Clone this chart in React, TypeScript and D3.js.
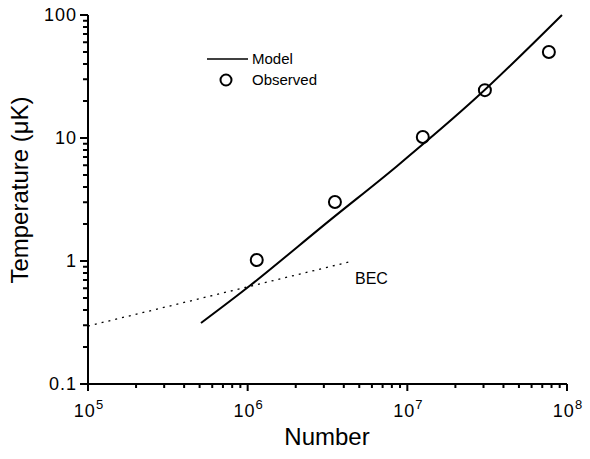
import React from 'react';
import * as d3 from 'd3';

// model curve (number, temperature in uK)
const modelN = [5.1e5, 1.05e6, 3.28e6, 8.6e6, 2.73e7, 9.3e7];
const modelT = [0.313, 0.64, 2.15, 5.9, 21.5, 100];

// observed points
const obsN = [1.14e6, 3.52e6, 1.25e7, 3.06e7, 7.7e7];
const obsT = [1.02, 3.02, 10.2, 24.5, 50];

// BEC line
const becN = [1e5, 4.57e6];
const becT = [0.296, 1.0];

const xMajor = [1e5, 1e6, 1e7, 1e8];
const xExponents = ['5', '6', '7', '8'];
const yMajor = [0.1, 1, 10, 100];
const yLabels = ['0.1', '1', '10', '100'];

const W = 590;
const H = 459;
const FONT = '"Liberation Sans", Arial, Helvetica, sans-serif';

const x = d3.scaleLog().domain([1e5, 1e8]).range([88, 567]);
const y = d3.scaleLog().domain([0.1, 100]).range([384, 15]);

const isMajor = (list: number[], v: number) => list.some(m => Math.abs(m - v) / m < 1e-6);
const minorX = x.ticks().filter(v => !isMajor(xMajor, v));
const minorY = y.ticks().filter(v => !isMajor(yMajor, v));

const modelLine = d3.line<number>()
  .x((d, i) => x(modelN[i]))
  .y(d => y(d))
  .curve(d3.curveCatmullRom);

const becLine = d3.line<number>()
  .x((d, i) => x(becN[i]))
  .y(d => y(d));

export default function App() {
  const x0 = x.range()[0];
  const x1 = x.range()[1];
  const y0 = y.range()[0];
  const y1 = y.range()[1];

  // axes and ticks as one path
  const axisPath = d3.path();
  axisPath.moveTo(x0, y1);
  axisPath.lineTo(x0, y0);
  axisPath.moveTo(x0 - 8, y0);
  axisPath.lineTo(x1, y0);
  minorY.forEach(v => { axisPath.moveTo(x0 - 5, y(v)); axisPath.lineTo(x0, y(v)); });
  yMajor.forEach(v => { axisPath.moveTo(x0 - 8, y(v)); axisPath.lineTo(x0, y(v)); });
  minorX.forEach(v => { axisPath.moveTo(x(v), y0); axisPath.lineTo(x(v), y0 + 4); });
  xMajor.forEach(v => { axisPath.moveTo(x(v), y0); axisPath.lineTo(x(v), y0 + 7); });

  return (
    <svg width={W} height={H} style={{ position: 'absolute', left: 0, top: 0, background: '#fff' }}
      fontFamily={FONT}>
      {/* axes */}
      <path d={axisPath.toString()} fill="none" stroke="#000" strokeWidth={2} />

      {/* tick labels */}
      {yMajor.map((v, i) => (
        <text key={'yl' + v} x={77} y={y(v)} dy="0.36em" textAnchor="end" fontSize={18}
          style={{ letterSpacing: '1px' }}>{yLabels[i]}</text>
      ))}
      {xMajor.map((v, i) => (
        <text key={'xl' + v} x={x(v) + 1} y={417} textAnchor="middle" fontSize={18}
          style={{ letterSpacing: '1px' }}>
          <tspan>10</tspan>
          <tspan dy={-8} fontSize={13}>{xExponents[i]}</tspan>
        </text>
      ))}

      {/* axis titles */}
      <text x={327} y={445} textAnchor="middle" fontSize={24}>Number</text>
      <text transform="translate(28,190) rotate(-90)" textAnchor="middle" fontSize={24}>Temperature (μK)</text>

      {/* BEC line */}
      <path d={becLine(becT) || ''} fill="none" stroke="#000" strokeWidth={1.3} strokeDasharray="2,5" />
      <text x={355} y={284} fontSize={16}>BEC</text>

      {/* model */}
      <path d={modelLine(modelT) || ''} fill="none" stroke="#000" strokeWidth={2} />

      {/* observed */}
      {obsT.map((d, i) => (
        <circle key={'o' + i} cx={x(obsN[i])} cy={y(d)} r={6} fill="none" stroke="#000" strokeWidth={2} />
      ))}

      {/* legend */}
      <line x1={207} x2={248} y1={59} y2={59} stroke="#000" strokeWidth={1.5} />
      <text x={252} y={59} dy="0.36em" fontSize={15}>Model</text>
      <circle cx={226} cy={80} r={5.5} fill="none" stroke="#000" strokeWidth={2} />
      <text x={252} y={80} dy="0.36em" fontSize={15}>Observed</text>
    </svg>
  );
}
